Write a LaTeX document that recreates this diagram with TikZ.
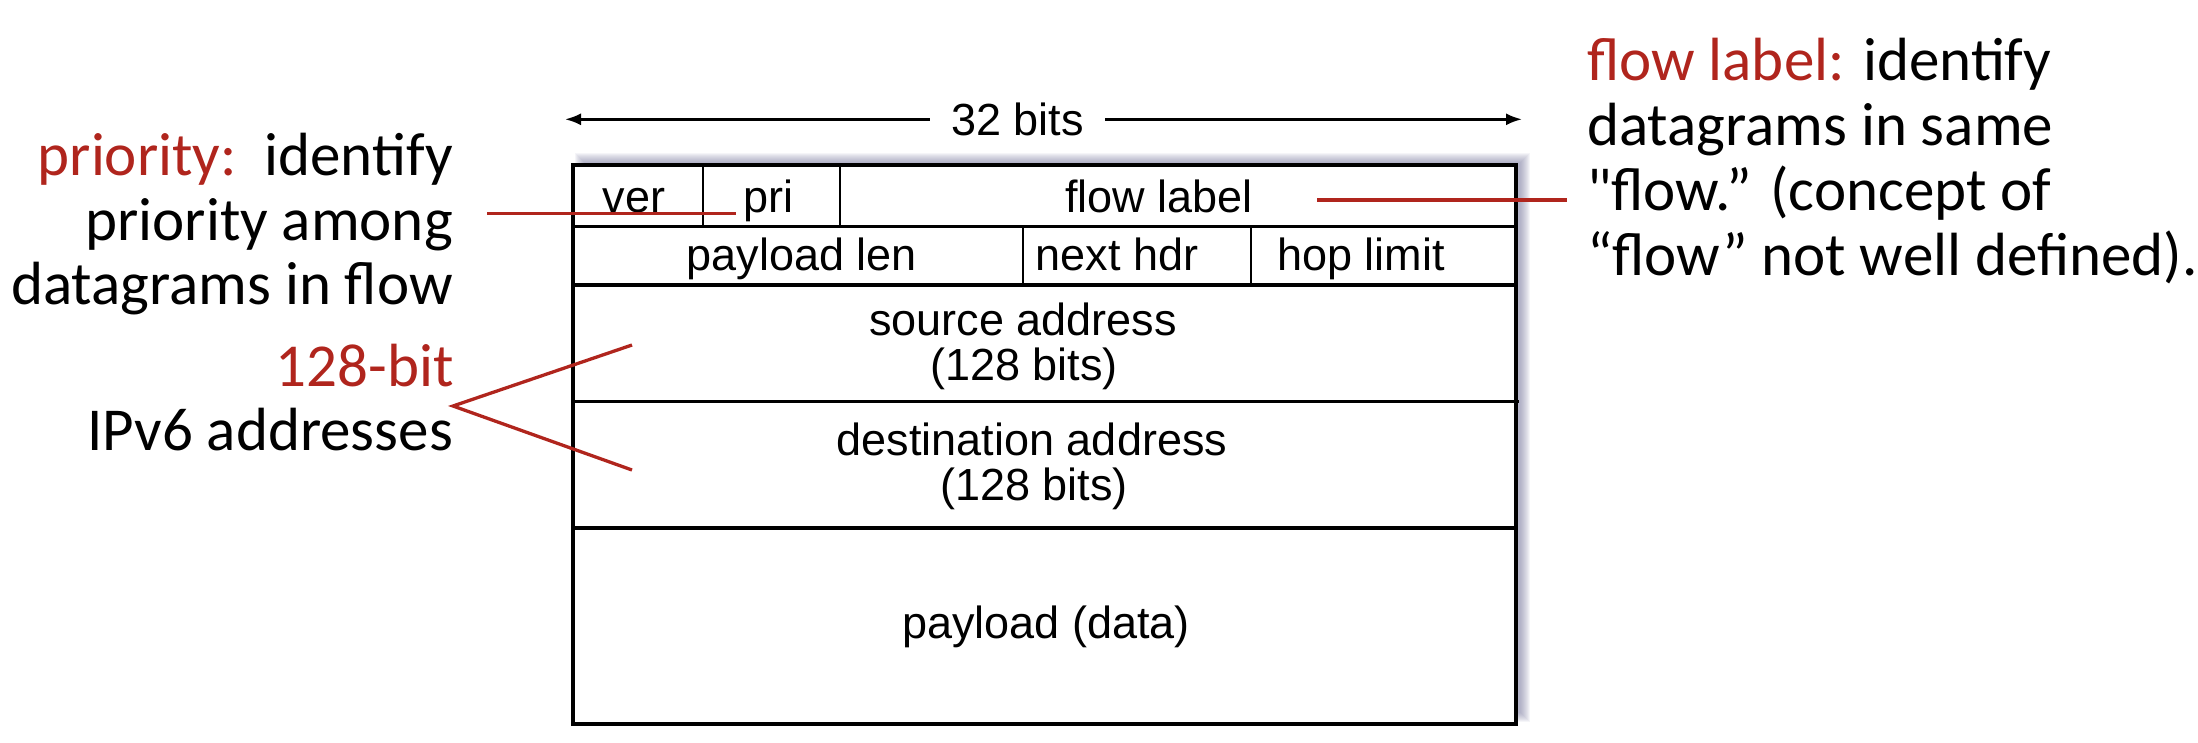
\documentclass[tikz,border=0pt]{standalone}
\usepackage{fontspec}
\setmainfont{Carlito}[Ligatures=TeXOff]
\newfontfamily\arialf{Liberation Sans}
\usetikzlibrary{arrows.meta}
\definecolor{hred}{RGB}{176,37,29}
\definecolor{shcol}{RGB}{110,110,150}
\begin{document}
\begin{tikzpicture}[x=1pt,y=-1pt,
  boxline/.style={line width=3.3pt},
  divline/.style={line width=2.5pt},
  callout/.style={hred,line width=3.3pt},
  boxtxt/.style={font=\arialf\fontsize{45}{50}\selectfont,inner sep=0pt,anchor=base},
  ann/.style={font=\fontsize{61}{65}\selectfont,inner sep=0pt},
  widthbar/.style={line width=2.5pt,{Latex[length=16pt,width=12pt]}-{Latex[length=16pt,width=12pt]}}
]
\useasboundingbox (0,0) rectangle (2198,742);
% soft shadow
\foreach \i in {0,...,9} {
  \fill[shcol,opacity=0.07] (575+\i,153+\i) rectangle (1530-\i,722-\i);
}
% header box
\fill[white] (573,165) rectangle (1516,724);
\draw[boxline] (573,165) rectangle (1516,724);
\draw[boxline] (573,226.7) -- (1514,226.7);
\draw[boxline] (573,285) -- (1516,285);
\draw[boxline] (573,401.7) -- (1519,401.7);
\draw[boxline] (573,528) -- (1516,528);
\draw[divline] (703,165) -- (703,226.7);
\draw[divline] (840,165) -- (840,226.7);
\draw[divline] (1023,226.7) -- (1023,285);
\draw[divline] (1251,226.7) -- (1251,285);
% width arrow
\coordinate (wl) at (565,119.3);
\coordinate (wr) at (1522,119.3);
\draw[widthbar] (wl) -- (wr);
\node[boxtxt,fill=white,inner xsep=21pt,inner ysep=17pt] (bits) at (1017.5,135.7) {32 bits};
% field labels
\node[boxtxt] (ver) at (634,212) {ver};
\node[boxtxt] (pri) at (768,212) {pri};
\node[boxtxt] (flow) at (1159,212) {flow label};
\node[boxtxt] (plen) at (802,270) {payload len};
\node[boxtxt] (nhdr) at (1117,270) {next hdr};
\node[boxtxt] (hop) at (1361,270) {hop limit};
\node[boxtxt] (src1) at (1023,335) {source address};
\node[boxtxt] (src2) at (1024,380) {(128 bits)};
\node[boxtxt] (dst1) at (1032,455) {destination address};
\node[boxtxt] (dst2) at (1034,500) {(128 bits)};
\node[boxtxt] (data) at (1046,638) {payload (data)};
% left annotations
\node[ann,anchor=base east] (pri1) at (453,175) {\textcolor{hred}{priority:}\ \ identify};
\node[ann,anchor=base east] (pri2) at (453,240) {priority among};
\node[ann,anchor=base east] (pri3) at (453,304) {datagrams in flow};
\node[ann,anchor=base east] (adr1) at (454,386) {\textcolor{hred}{128-bit}};
\node[ann,anchor=base east] (adr2) at (453,450) {IPv6 addresses};
% right annotations
\node[ann,anchor=base west] (fl1) at (1587,80) {\textcolor{hred}{flow label:} identify};
\node[ann,anchor=base west] (fl2) at (1587,145) {datagrams in same};
\node[ann,anchor=base west] (fl3) at (1587,210) {"flow.” (concept of};
\node[ann,anchor=base west] (fl4) at (1587,275) {“flow” not well defined).};
% callout lines
\coordinate (priA) at (487,213.5);
\coordinate (priB) at (736,213.5);
\coordinate (flA) at (1317,200);
\coordinate (flB) at (1567,200);
\coordinate (apex) at (453,406);
\coordinate (srcpt) at (632,345);
\coordinate (dstpt) at (632,470);
\draw[callout] (priA) -- (priB);
\draw[callout] (flA) -- (flB);
\draw[callout] (srcpt) -- (apex) -- (dstpt);
\end{tikzpicture}
\end{document}
